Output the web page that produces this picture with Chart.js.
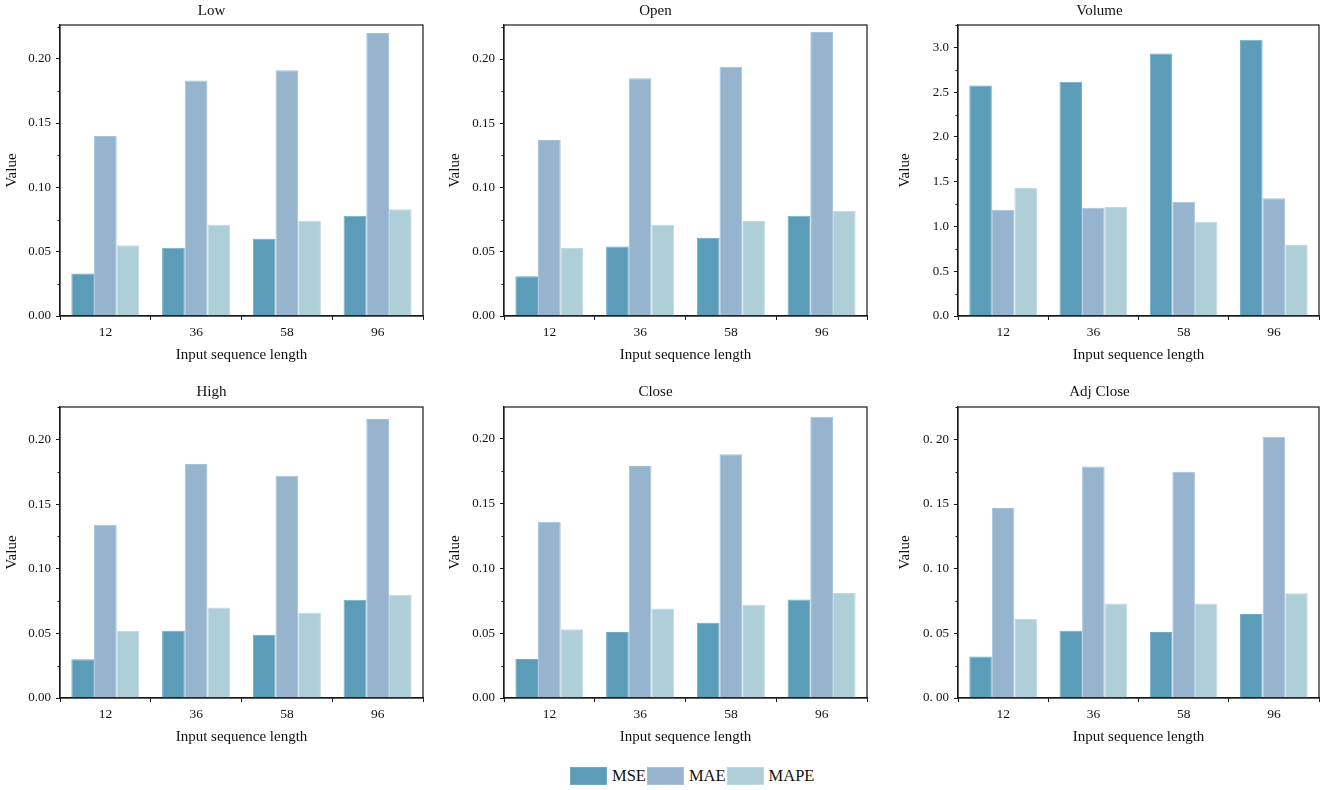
<!DOCTYPE html>
<html>
<head>
<meta charset="utf-8">
<script src="https://cdn.jsdelivr.net/npm/chart.js@4.4.1/dist/chart.umd.min.js"></script>
<style>
  html, body { margin:0; padding:0; background:#fff; }
  body { width:1325px; height:790px; position:relative; overflow:hidden; font-family:"Liberation Serif", serif; }
  canvas { position:absolute; }
  #legend { position:absolute; left:570px; top:767px; display:flex; align-items:center; font-size:16.5px; color:#111; line-height:18px; }
  #legend .item { display:flex; align-items:center; }
  #legend .box { width:37px; height:18px; margin-right:5px; box-sizing:border-box; }
  #legend .lbl { margin-right:1px; }
</style>
</head>
<body>
<canvas id="c0" width="440" height="370" style="left:0px;top:0px"></canvas>
<canvas id="c1" width="440" height="370" style="left:444px;top:0px"></canvas>
<canvas id="c2" width="445" height="370" style="left:880px;top:0px"></canvas>
<canvas id="c3" width="440" height="372" style="left:0px;top:375px"></canvas>
<canvas id="c4" width="440" height="372" style="left:444px;top:375px"></canvas>
<canvas id="c5" width="445" height="372" style="left:880px;top:375px"></canvas>
<div id="legend"></div>
<script>
// ---- data ----
const categories = ['12', '36', '58', '96'];
const seriesNames = ['MSE', 'MAE', 'MAPE'];
const panelTitles = ['Low', 'Open', 'Volume', 'High', 'Close', 'Adj Close'];

const lowMSE  = [0.033, 0.053, 0.060, 0.078];
const lowMAE  = [0.140, 0.183, 0.191, 0.220];
const lowMAPE = [0.055, 0.071, 0.074, 0.083];

const openMSE  = [0.031, 0.054, 0.061, 0.078];
const openMAE  = [0.137, 0.185, 0.194, 0.221];
const openMAPE = [0.053, 0.071, 0.074, 0.082];

const volumeMSE  = [2.575, 2.616, 2.933, 3.085];
const volumeMAE  = [1.187, 1.210, 1.277, 1.314];
const volumeMAPE = [1.429, 1.217, 1.053, 0.793];

const highMSE  = [0.030, 0.052, 0.049, 0.076];
const highMAE  = [0.134, 0.181, 0.172, 0.216];
const highMAPE = [0.052, 0.070, 0.066, 0.080];

const closeMSE  = [0.030, 0.051, 0.058, 0.076];
const closeMAE  = [0.136, 0.179, 0.188, 0.217];
const closeMAPE = [0.053, 0.069, 0.072, 0.081];

const adjMSE  = [0.032, 0.052, 0.051, 0.065];
const adjMAE  = [0.147, 0.179, 0.175, 0.202];
const adjMAPE = [0.061, 0.073, 0.073, 0.081];

const yTicksSmall  = [0, 0.05, 0.10, 0.15, 0.20];
const yTicksVolume = [0, 0.5, 1.0, 1.5, 2.0, 2.5, 3.0];

// ---- styling ----
const fillColors   = ['#5b9db8', '#96b4ce', '#afcfd8'];
const borderColors = ['#6fabc3', '#a6c0d8', '#bfd9e0'];
const FONT = 'Liberation Serif';

const panels = [
  { title: panelTitles[0], series: [lowMSE, lowMAE, lowMAPE],          max: 0.2262, ticks: yTicksSmall,  fmt: v => v.toFixed(2) },
  { title: panelTitles[1], series: [openMSE, openMAE, openMAPE],       max: 0.2265, ticks: yTicksSmall,  fmt: v => v.toFixed(2) },
  { title: panelTitles[2], series: [volumeMSE, volumeMAE, volumeMAPE], max: 3.25,   ticks: yTicksVolume, fmt: v => v.toFixed(1) },
  { title: panelTitles[3], series: [highMSE, highMAE, highMAPE],       max: 0.2252, ticks: yTicksSmall,  fmt: v => v.toFixed(2) },
  { title: panelTitles[4], series: [closeMSE, closeMAE, closeMAPE],    max: 0.2245, ticks: yTicksSmall,  fmt: v => v.toFixed(2) },
  { title: panelTitles[5], series: [adjMSE, adjMAE, adjMAPE],          max: 0.2250, ticks: yTicksSmall,  fmt: v => v.toFixed(2).replace('.', '. ') }
];

// layout per column / row
const cols = [
  { yW: 60, padR: 17, yTitlePad: 3 },
  { yW: 60, padR: 17, yTitlePad: 2 },
  { yW: 78, padR: 6,  yTitlePad: 16 }
];
const rows = [
  { titlePad: { top: 2, bottom: 5 }, xH: 54, xTitlePadB: 6 },
  { titlePad: { top: 8, bottom: 6 }, xH: 49, xTitlePadB: 1 }
];

Chart.defaults.color = '#111';
Chart.defaults.font.family = FONT;

const framePlugin = {
  id: 'frame',
  afterDraw(chart) {
    const { ctx, chartArea: a } = chart;
    const y = chart.scales.y;
    ctx.save();
    ctx.strokeStyle = '#1a1a1a';
    ctx.lineWidth = 1.2;
    ctx.strokeRect(a.left, a.top, a.right - a.left, a.bottom - a.top);
    // minor ticks halfway between major ticks
    const t = y.ticks;
    if (t.length > 1) {
      const step = t[1].value - t[0].value;
      ctx.lineWidth = 1;
      ctx.beginPath();
      for (const tk of t) {
        const v = tk.value + step / 2;
        if (v <= y.max) {
          const py = Math.round(y.getPixelForValue(v)) + 0.5;
          ctx.moveTo(a.left, py);
          ctx.lineTo(a.left - 2.5, py);
        }
      }
      ctx.stroke();
    }
    ctx.restore();
  }
};

panels.forEach((p, i) => {
  const col = cols[i % 3];
  const row = rows[Math.floor(i / 3)];
  const step = p.ticks[1] - p.ticks[0];
  new Chart(document.getElementById('c' + i), {
    type: 'bar',
    data: {
      labels: categories,
      datasets: seriesNames.map((name, k) => ({
        label: name,
        data: p.series[k],
        backgroundColor: fillColors[k],
        borderColor: borderColors[k],
        borderWidth: 1,
        categoryPercentage: 0.75,
        barPercentage: 1.0
      }))
    },
    options: {
      responsive: false,
      animation: false,
      devicePixelRatio: 1,
      layout: { padding: { left: 0, right: col.padR, top: 0, bottom: 0 } },
      plugins: {
        legend: { display: false },
        tooltip: { enabled: false },
        title: {
          display: true,
          text: p.title,
          color: '#111',
          font: { family: FONT, size: 15, weight: 'normal', lineHeight: 1.2 },
          padding: row.titlePad
        }
      },
      scales: {
        x: {
          grid: { drawOnChartArea: false, offset: true, tickLength: 4, tickColor: '#1a1a1a', color: '#1a1a1a' },
          border: { color: '#1a1a1a', width: 1.2 },
          ticks: { color: '#111', font: { family: FONT, size: 13.5 }, padding: 4, maxRotation: 0 },
          title: {
            display: true, text: 'Input sequence length', color: '#111',
            font: { family: FONT, size: 15, lineHeight: 1.2 },
            padding: { top: 0, bottom: row.xTitlePadB }
          },
          afterFit(scale) { scale.height = row.xH; }
        },
        y: {
          min: 0,
          max: p.max,
          grid: { drawOnChartArea: false, tickLength: 4, tickColor: '#1a1a1a', color: '#1a1a1a' },
          border: { color: '#1a1a1a', width: 1.2 },
          ticks: {
            stepSize: step,
            includeBounds: false,
            color: '#111',
            font: { family: FONT, size: 13 },
            padding: 5,
            callback: v => p.fmt(v)
          },
          title: {
            display: true, text: 'Value', color: '#111',
            font: { family: FONT, size: 15, lineHeight: 1.2 },
            padding: { top: col.yTitlePad, bottom: 0 }
          },
          afterFit(scale) { scale.width = col.yW; }
        }
      }
    },
    plugins: [framePlugin]
  });
});

// legend built from series names and colours
const legend = document.getElementById('legend');
seriesNames.forEach((name, k) => {
  const item = document.createElement('div');
  item.className = 'item';
  const box = document.createElement('div');
  box.className = 'box';
  box.style.background = fillColors[k];
  box.style.border = '1px solid ' + borderColors[k];
  const lbl = document.createElement('span');
  lbl.className = 'lbl';
  lbl.textContent = name;
  item.appendChild(box);
  item.appendChild(lbl);
  legend.appendChild(item);
});
</script>
</body>
</html>
